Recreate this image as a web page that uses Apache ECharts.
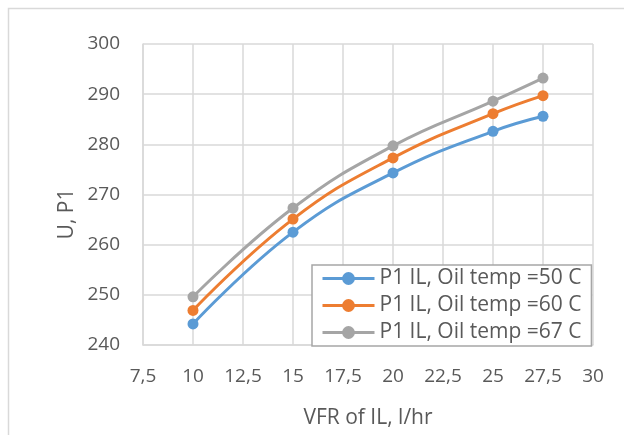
<!DOCTYPE html>
<html>
<head>
<meta charset="utf-8">
<script src="https://cdn.jsdelivr.net/npm/echarts@6/dist/echarts.min.js"></script>
<style>
html,body{margin:0;padding:0;background:#fff;}
#chart{width:624px;height:435px;}
</style>
</head>
<body>
<div id="chart"></div>
<script>
const vfr = [10, 15, 20, 25, 27.5];
const temp50 = [244.2, 262.5, 274.3, 282.6, 285.6];
const temp60 = [246.9, 265.1, 277.3, 286.1, 289.7];
const temp67 = [249.6, 267.3, 279.7, 288.6, 293.2];
const seriesNames = ['P1 IL, Oil temp =50 C', 'P1 IL, Oil temp =60 C', 'P1 IL, Oil temp =67 C'];
const colors = ['#5B9BD5', '#ED7D31', '#A5A5A5'];
const xTitle = 'VFR of IL, l/hr';
const yTitle = 'U, P1';

const font = 'Open Sans';
const textColor = '#595959';
const chart = echarts.init(document.getElementById('chart'));
const values = [temp50, temp60, temp67];
const series = values.map((vals, i) => ({
  name: seriesNames[i],
  type: 'line',
  smooth: 0.45,
  data: vfr.map((x, j) => [x, vals[j]]),
  symbol: 'circle',
  symbolSize: 11,
  lineStyle: {width: 3, color: colors[i]},
  itemStyle: {color: colors[i]},
  z: 2 + i
}));
chart.setOption({
  animation: false,
  backgroundColor: '#fff',
  grid: {left: 143, right: 31, top: 44, bottom: 90},
  xAxis: {
    type: 'value', min: 7.5, max: 30, interval: 2.5,
    name: xTitle, nameLocation: 'middle', nameGap: 63,
    nameTextStyle: {fontFamily: font, fontSize: 21, color: textColor},
    axisLine: {show: true, lineStyle: {color: '#d9d9d9', width: 1.5}},
    axisTick: {show: false},
    axisLabel: {margin: 22, fontFamily: font, fontSize: 19, color: textColor,
      formatter: v => String(v).replace('.', ',')},
    splitLine: {show: true, lineStyle: {color: '#d9d9d9', width: 1.5}}
  },
  yAxis: {
    type: 'value', min: 240, max: 300, interval: 10,
    axisLine: {show: true, lineStyle: {color: '#d9d9d9', width: 1.5}},
    axisTick: {show: false},
    axisLabel: {margin: 23, fontFamily: font, fontSize: 19, color: textColor},
    splitLine: {show: true, lineStyle: {color: '#d9d9d9', width: 1.5}}
  },
  legend: {
    orient: 'vertical',
    left: 312, top: 265,
    padding: [3, 10, 3, 9],
    itemGap: 6,
    itemWidth: 52, itemHeight: 16,
    itemTextGap: 13,
    backgroundColor: '#fff',
    borderColor: '#a6a6a6', borderWidth: 1.5,
    lineStyle: {width: 3},
    textStyle: {fontFamily: font, fontSize: 21, color: textColor, lineHeight: 21},
    data: seriesNames
  },
  graphic: [
    {type: 'rect', left: 6, top: 6, shape: {width: 700, height: 500},
      style: {fill: 'none', stroke: '#d9d9d9', lineWidth: 1.5}, silent: true, z: -1},
    {type: 'text', x: 67, y: 214, rotation: Math.PI / 2,
      style: {text: yTitle, fontFamily: font, fontSize: 21, fill: textColor,
        align: 'center', verticalAlign: 'middle'}}
  ],
  series: series
});
</script>
</body>
</html>
